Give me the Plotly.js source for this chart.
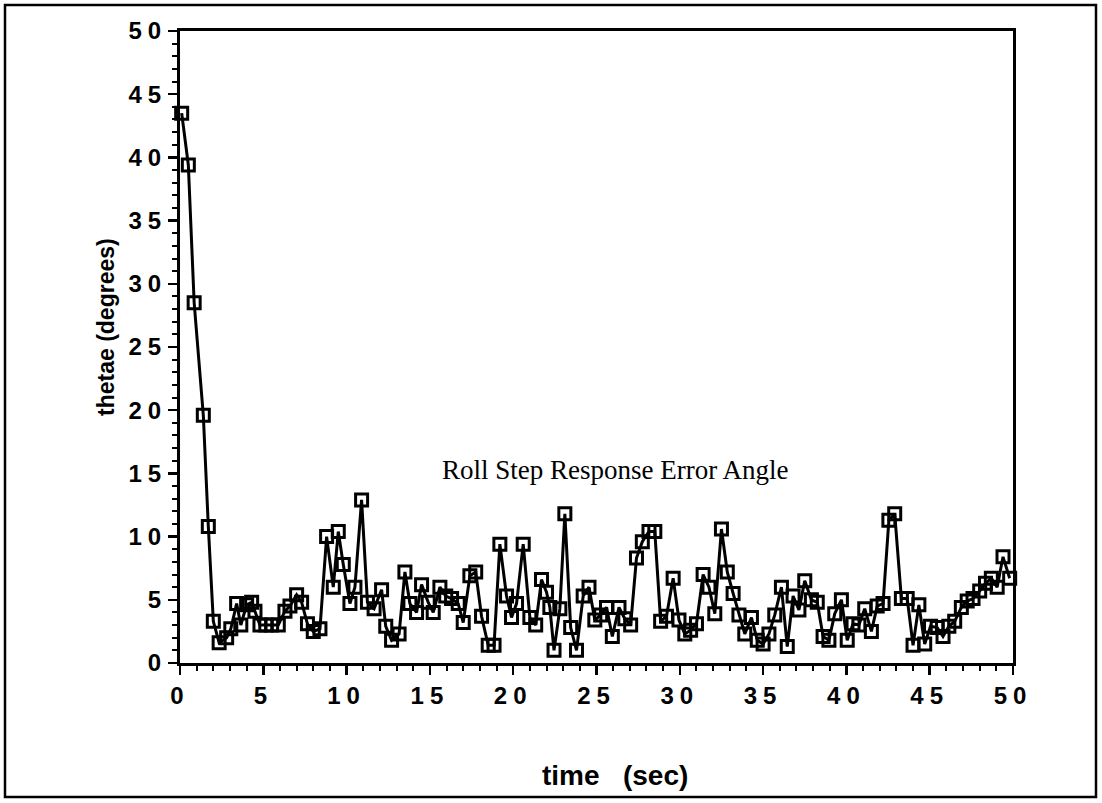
<!DOCTYPE html>
<html>
<head>
<meta charset="utf-8">
<script src="https://cdn.plot.ly/plotly-3.0.1.min.js"></script>
<style>
html,body{margin:0;padding:0;background:#fff;}
#chart{width:1102px;height:803px;}
#chart .xtick text, #chart .ytick text{letter-spacing:6px;}
</style>
</head>
<body>
<div id="chart"></div>
<script>
// time (sec)
const timeSec = [0.1,0.5,0.85,1.4,1.7,2.0,2.35,2.8,3.05,3.4,3.65,4.0,4.3,4.5,4.8,5.15,5.5,5.9,6.3,6.6,7.0,7.3,7.65,8.0,8.4,8.8,9.2,9.5,9.8,10.2,10.5,10.9,11.25,11.65,12.1,12.35,12.7,13.15,13.5,13.8,14.2,14.5,14.9,15.2,15.6,15.95,16.3,16.7,17.0,17.4,17.75,18.1,18.5,18.85,19.2,19.6,19.9,20.2,20.6,21.0,21.35,21.7,22.0,22.2,22.45,22.8,23.1,23.45,23.8,24.2,24.55,24.9,25.25,25.6,25.95,26.35,26.7,27.05,27.4,27.75,28.15,28.5,28.85,29.2,29.6,29.95,30.3,30.65,31.0,31.4,31.75,32.1,32.5,32.85,33.2,33.55,33.9,34.3,34.65,35.0,35.35,35.7,36.1,36.45,36.8,37.15,37.5,37.9,38.25,38.6,38.95,39.3,39.7,40.05,40.4,40.75,41.1,41.5,41.85,42.2,42.55,42.9,43.3,43.65,44.0,44.35,44.7,45.05,45.45,45.8,46.15,46.5,46.9,47.25,47.6,48.0,48.35,48.7,49.05,49.4,49.8];
// thetae (degrees)
const thetae = [43.5,39.4,28.5,19.6,10.8,3.3,1.6,2.0,2.7,4.7,3.0,4.6,4.8,4.1,3.0,3.0,3.0,3.0,4.1,4.5,5.4,4.8,3.1,2.5,2.7,10.0,6.0,10.4,7.8,4.7,6.0,12.9,4.8,4.3,5.8,2.9,1.8,2.3,7.2,4.7,4.0,6.2,4.8,4.0,6.0,5.3,5.1,4.7,3.2,6.9,7.2,3.7,1.4,1.4,9.4,5.3,3.6,4.7,9.4,3.6,3.0,6.6,5.6,4.4,1.0,4.3,11.8,2.8,1.0,5.3,6.0,3.4,3.8,4.4,2.1,4.4,3.5,3.0,8.3,9.6,10.4,10.4,3.3,3.7,6.7,3.4,2.3,2.6,3.1,7.0,6.0,3.9,10.6,7.2,5.5,3.8,2.3,3.6,1.8,1.5,2.3,3.8,6.0,1.3,5.3,4.2,6.5,5.0,4.8,2.1,1.8,3.9,5.0,1.8,3.1,3.0,4.3,2.5,4.5,4.7,11.3,11.8,5.1,5.1,1.4,4.6,1.5,2.9,2.8,2.1,2.9,3.3,4.4,4.9,5.1,5.7,6.3,6.7,6.0,8.4,6.7];

const axisTickVals = [0,5,10,15,20,25,30,35,40,45,50];
const chartLabel = "Roll Step Response Error Angle";
const xTitle = "time   (sec)";
const yTitle = "thetae (degrees)";

const trace = {
  x: timeSec,
  y: thetae,
  type: 'scatter',
  mode: 'lines+markers',
  line: {color: '#000', width: 3},
  marker: {symbol: 'square-open', size: 12, color: '#000', line: {color: '#000', width: 3}},
  cliponaxis: false,
  showlegend: false
};

const tickFont = {family: 'Liberation Sans, Arial, sans-serif', size: 24, color: '#000', weight: 'bold'};

const layout = {
  width: 1102, height: 803,
  margin: {l: 180, r: 89, t: 31, b: 140},
  paper_bgcolor: '#fff', plot_bgcolor: '#fff',
  showlegend: false,
  xaxis: {
    range: [0, 50], tickvals: axisTickVals, showgrid: false, zeroline: false,
    showline: true, linecolor: '#000', linewidth: 3, mirror: true,
    ticks: 'outside', ticklen: 9, tickwidth: 2.5, tickcolor: '#000',
    minor: {dtick: 1, ticks: 'outside', ticklen: 5, tickwidth: 2, tickcolor: '#000', showgrid: false},
    tickfont: tickFont
  },
  yaxis: {
    range: [0, 50], tickvals: axisTickVals, showgrid: false, zeroline: false,
    showline: true, linecolor: '#000', linewidth: 3, mirror: true,
    ticks: 'outside', ticklen: 9, tickwidth: 2.5, tickcolor: '#000',
    minor: {dtick: 1, ticks: 'outside', ticklen: 5, tickwidth: 2, tickcolor: '#000', showgrid: false},
    tickfont: tickFont, ticklabelstandoff: -4
  },
  annotations: [
    {
      text: chartLabel, xref: 'x', yref: 'y', x: 26.1, y: 15.3, showarrow: false,
      font: {family: 'Liberation Serif, Times New Roman, serif', size: 27, color: '#000'}
    },
    {
      text: xTitle, xref: 'paper', yref: 'paper', x: (615 - 180) / 833, y: -(775 - 663) / 632,
      xanchor: 'center', yanchor: 'middle', showarrow: false,
      font: {family: 'Liberation Sans, Arial, sans-serif', size: 28, color: '#000', weight: 'bold'}
    },
    {
      text: yTitle, xref: 'paper', yref: 'paper', x: -(180 - 106) / 833, y: (663 - 327) / 632,
      xanchor: 'center', yanchor: 'middle', textangle: -90, showarrow: false,
      font: {family: 'Liberation Sans, Arial, sans-serif', size: 23, color: '#000', weight: 'bold'}
    }
  ],
  shapes: [{
    type: 'rect', xref: 'paper', yref: 'paper',
    x0: -175 / 833, x1: (1096 - 180) / 833, y0: -(797 - 663) / 632, y1: 1 + 26 / 632,
    line: {color: '#000', width: 2.5}, fillcolor: 'rgba(0,0,0,0)'
  }]
};

Plotly.newPlot('chart', [trace], layout, {displayModeBar: false, staticPlot: true});
</script>
</body>
</html>
